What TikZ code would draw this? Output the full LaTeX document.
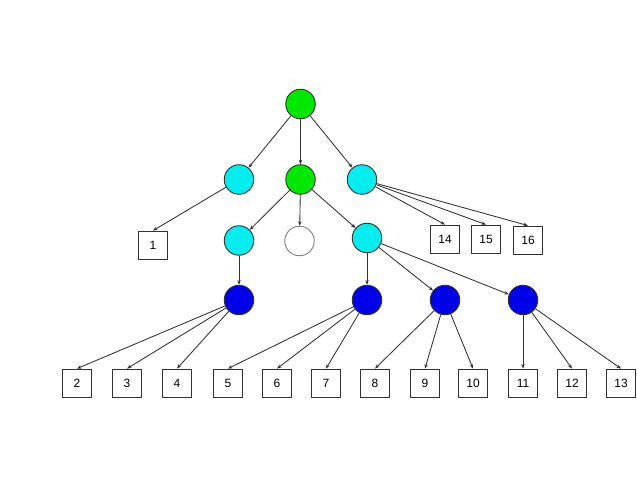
\documentclass[tikz,border=0pt]{standalone}
\usepackage{fontspec}
\setmainfont{Liberation Sans}
\usetikzlibrary{arrows.meta}
\definecolor{ngreen}{RGB}{0,232,0}
\definecolor{ncyan}{RGB}{0,238,238}
\definecolor{nblue}{RGB}{0,0,235}
\definecolor{lgray}{RGB}{50,50,50}
\tikzset{
  circ/.style={circle,draw=lgray,line width=0.9pt,minimum size=29.5pt,inner sep=0pt},
  gnode/.style={circ,fill=ngreen},
  cnode/.style={circ,fill=ncyan},
  bnode/.style={circ,fill=nblue},
  wnode/.style={circ,fill=white,draw=gray},
  leaf/.style={rectangle,draw=lgray,line width=0.8pt,minimum width=29pt,minimum height=28pt,inner sep=0pt,font=\fontsize{12pt}{14pt}\selectfont},
  edge/.style={draw=lgray,line width=0.85pt,-{Stealth[length=4.5pt,width=3.5pt]}}
}
\begin{document}
\begin{tikzpicture}[x=1pt,y=-1pt]
\useasboundingbox (0,0) rectangle (637,478);
\fill[white] (0,0) rectangle (637,478);
\node[gnode] (root) at (300.5,104) {};
\node[cnode] (cl) at (239,179.5) {};
\node[gnode] (gm) at (300.5,179.5) {};
\node[cnode] (cr) at (362,179.5) {};
\node[leaf] (n1) at (153,245) {1};
\node[cnode] (c3l) at (239,240.5) {};
\node[wnode] (wm) at (299.5,241) {};
\node[cnode] (c3r) at (367,238) {};
\node[leaf] (n14) at (445,239) {14};
\node[leaf] (n15) at (486,239) {15};
\node[leaf] (n16) at (528,240) {16};
\node[bnode] (b1) at (239,300) {};
\node[bnode] (b2) at (367,300) {};
\node[bnode] (b3) at (445,300) {};
\node[bnode] (b4) at (523,300) {};
\node[leaf] (n2) at (77,383) {2};
\node[leaf] (n3) at (127,383) {3};
\node[leaf] (n4) at (177,383) {4};
\node[leaf] (n5) at (228,383) {5};
\node[leaf] (n6) at (277,383) {6};
\node[leaf] (n7) at (326,383) {7};
\node[leaf] (n8) at (375,383) {8};
\node[leaf] (n9) at (425,383) {9};
\node[leaf] (n10) at (473,383) {10};
\node[leaf] (n11) at (523,383) {11};
\node[leaf] (n12) at (572,383) {12};
\node[leaf] (n13) at (621,383) {13};
\foreach \a/\b in {root/cl,root/gm,root/cr,gm/c3l,gm/wm,gm/c3r,c3l/b1,c3r/b2,c3r/b3,c3r/b4}
  \draw[edge] (\a) -- (\b);
\draw[edge] (cl) -- (n1.north);
\foreach \b in {n14,n15,n16}
  \draw[edge] (cr) -- (\b.north);
\foreach \b in {n2,n3,n4}
  \draw[edge] (b1) -- (\b.north);
\foreach \b in {n5,n6,n7}
  \draw[edge] (b2) -- (\b.north);
\foreach \b in {n8,n9,n10}
  \draw[edge] (b3) -- (\b.north);
\foreach \b in {n11,n12,n13}
  \draw[edge] (b4) -- (\b.north);
\end{tikzpicture}
\end{document}
